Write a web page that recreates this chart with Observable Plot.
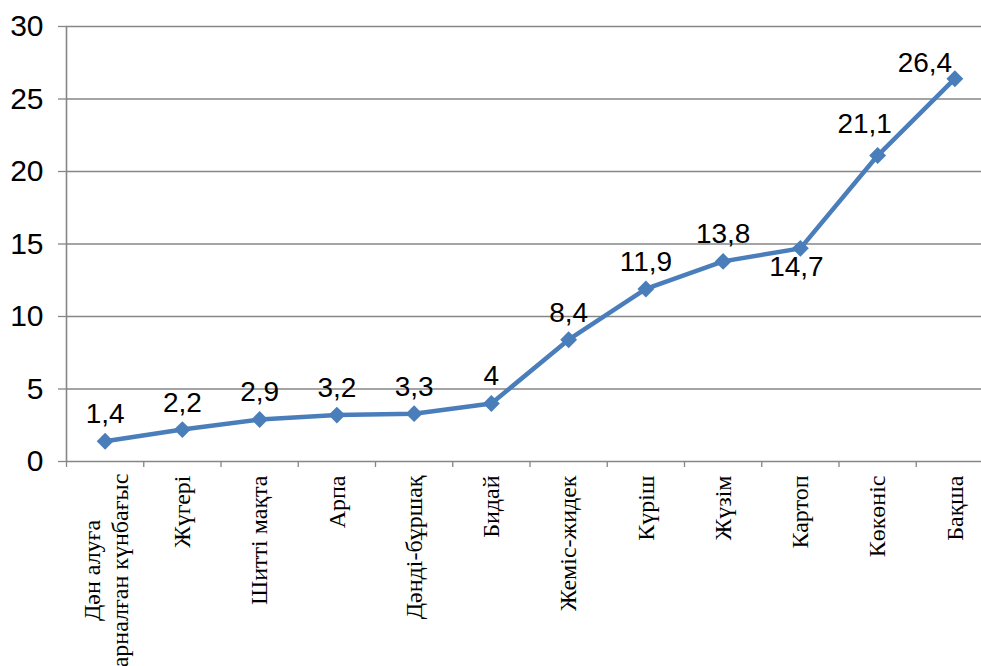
<!DOCTYPE html>
<html>
<head>
<meta charset="utf-8">
<script src="https://cdn.jsdelivr.net/npm/d3@7"></script>
<script src="https://cdn.jsdelivr.net/npm/@observablehq/plot@0.6"></script>
<style>
  html, body { margin: 0; padding: 0; background: #fff; overflow: hidden; }
  #chart svg { overflow: visible; }
</style>
</head>
<body>
<div id="chart"></div>
<script>
const categories = [
  "Дән алуға\nарналған күнбағыс",
  "Жүгері",
  "Шитті мақта",
  "Арпа",
  "Дәнді-бұршақ",
  "Бидай",
  "Жеміс-жидек",
  "Күріш",
  "Жүзім",
  "Картоп",
  "Көкөніс",
  "Бақша"
];
const values = [1.4, 2.2, 2.9, 3.2, 3.3, 4, 8.4, 11.9, 13.8, 14.7, 21.1, 26.4];
const valueLabels = ["1,4", "2,2", "2,9", "3,2", "3,3", "4", "8,4", "11,9", "13,8", "14,7", "21,1", "26,4"];
const yTicks = [0, 5, 10, 15, 20, 25, 30];

const data = categories.map((c, i) => ({i, c, v: values[i], lab: valueLabels[i]}));
const bounds = d3.range(-0.5, categories.length, 1);

const gray = "#868686";
const blue = "#4A7EBB";
const sans = "Liberation Sans, Arial, sans-serif";
const serif = "Liberation Serif, Times New Roman, serif";

const below = new Set(["14,7"]);
const shiftLeft1 = new Set(["21,1"]);
const shiftLeft2 = new Set(["26,4"]);
const normal = data.filter(d => !below.has(d.lab) && !shiftLeft1.has(d.lab) && !shiftLeft2.has(d.lab));

const chart = Plot.plot({
  width: 981,
  height: 666,
  marginLeft: 67,
  marginTop: 26,
  marginBottom: 205,
  marginRight: 0,
  style: {background: "white", overflow: "visible"},
  x: {type: "linear", domain: [-0.5, 11.5], range: [66, 993]},
  y: {domain: [0, 30], range: [461, 26]},
  marks: [
    Plot.ruleY(yTicks.filter(t => t > 0), {y: d => d, x1: -0.5, x2: 11.5, stroke: gray, strokeWidth: 1.3}),
    Plot.ruleY([0], {x1: -0.5, x2: 11.5, stroke: gray, strokeWidth: 1.6}),
    Plot.ruleX([-0.5], {y1: 0, y2: 30, stroke: gray, strokeWidth: 1.6}),
    Plot.axisY({ticks: yTicks, tickSize: 9, tickPadding: 15, stroke: gray, strokeWidth: 1.3,
      fontSize: 30, fontFamily: sans, fill: "black", tickFormat: d => String(d), label: null}),
    Plot.axisX({ticks: bounds, tickSize: 6, tickFormat: () => "", stroke: gray, strokeWidth: 1.3, label: null}),
    Plot.text(data.filter(d => d.i > 0), {x: "i", y: 0, text: "c", rotate: -90, textAnchor: "end",
      lineAnchor: "middle", dy: 14, fontSize: 24, fontFamily: serif, fill: "black"}),
    Plot.text(data.filter(d => d.i === 0), {x: "i", y: 0, text: "c", rotate: -90, textAnchor: "middle",
      lineAnchor: "middle", lineHeight: 1.17, dy: 109, fontSize: 24, fontFamily: serif, fill: "black"}),
    Plot.line(data, {x: "i", y: "v", stroke: blue, strokeWidth: 4.5, strokeLinejoin: "round"}),
    Plot.dot(data, {x: "i", y: "v", symbol: "diamond2", r: 7.6, fill: blue, stroke: "none"}),
    Plot.text(normal, {x: "i", y: "v", text: "lab", dy: -27, lineAnchor: "middle", fontSize: 28, fontFamily: sans, fill: "black"}),
    Plot.text(data.filter(d => below.has(d.lab)), {x: "i", y: "v", text: "lab", dy: 19, dx: -4, lineAnchor: "middle", fontSize: 28, fontFamily: sans, fill: "black"}),
    Plot.text(data.filter(d => shiftLeft1.has(d.lab)), {x: "i", y: "v", text: "lab", dy: -32, dx: -13, lineAnchor: "middle", fontSize: 28, fontFamily: sans, fill: "black"}),
    Plot.text(data.filter(d => shiftLeft2.has(d.lab)), {x: "i", y: "v", text: "lab", dy: -16, dx: -30, lineAnchor: "middle", fontSize: 28, fontFamily: sans, fill: "black"})
  ]
});
document.getElementById("chart").appendChild(chart);
</script>
</body>
</html>
